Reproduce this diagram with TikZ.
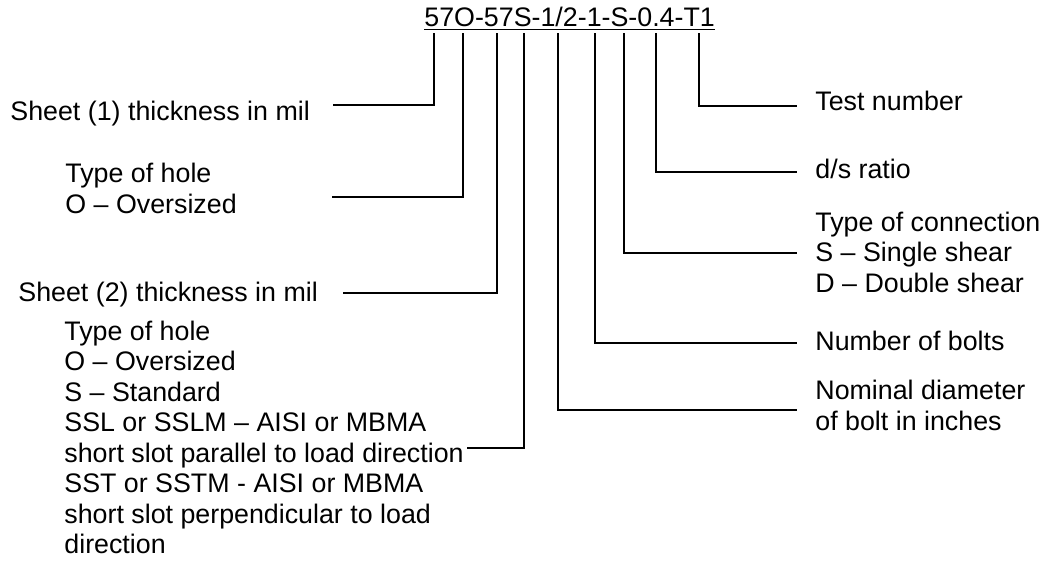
\documentclass[tikz,border=0pt]{standalone}
\usepackage{fontspec}
\setmainfont{Liberation Sans}
\usetikzlibrary{positioning}
\tikzset{
  lbl/.style={font=\fontsize{13.4}{15.25}\selectfont, inner sep=0pt, anchor=base west, align=left},
  lead/.style={draw=black, line width=0.6pt},
}

\begin{document}
\begin{tikzpicture}[x=0.5pt,y=-0.5pt]
  \useasboundingbox (0,0) rectangle (1048,564);
  \node[lbl] (code) at (424,26) {\underline{57O-57S-1/2-1-S-0.4-T1}};
  % left side (multi-line labels sit on their last line)
  \node[lbl] (sheetA) at (10,120) {Sheet (1) thickness in mil};
  \node[lbl] (holeA) at (65,213) {Type of hole\\O -- Oversized};
  \node[lbl] (sheetB) at (18,301) {Sheet (2) thickness in mil};
  \node[lbl] (holeB) at (64,553.5) {Type of hole\\O -- Oversized\\S -- Standard\\SSL or SSLM -- AISI or MBMA\\short slot parallel to load direction\\SST or SSTM - AISI or MBMA\\short slot perpendicular to load\\direction};
  % right side
  \node[lbl] (test) at (815,110) {Test number};
  \node[lbl] (ratio) at (815,178) {d/s ratio};
  \node[lbl] (conn) at (815,292) {Type of connection\\S -- Single shear\\D -- Double shear};
  \node[lbl] (nbolt) at (815,350) {Number of bolts};
  \node[lbl] (dia) at (815,430) {Nominal diameter\\of bolt in inches};
  % leaders
  \foreach \k/\tx/\ex/\ey in {1/434/333/105, 2/463/332/197, 3/497/343/293, 4/524/467/448,
                              5/558/797/410, 6/595/797/343, 7/624/797/253, 8/656/797/172, 9/699/797/106} {
    \coordinate (tick\k) at (\tx,33);
    \coordinate (end\k) at (\ex,\ey);
    \draw[lead] (tick\k) |- (end\k);
  }
\end{tikzpicture}
\end{document}
